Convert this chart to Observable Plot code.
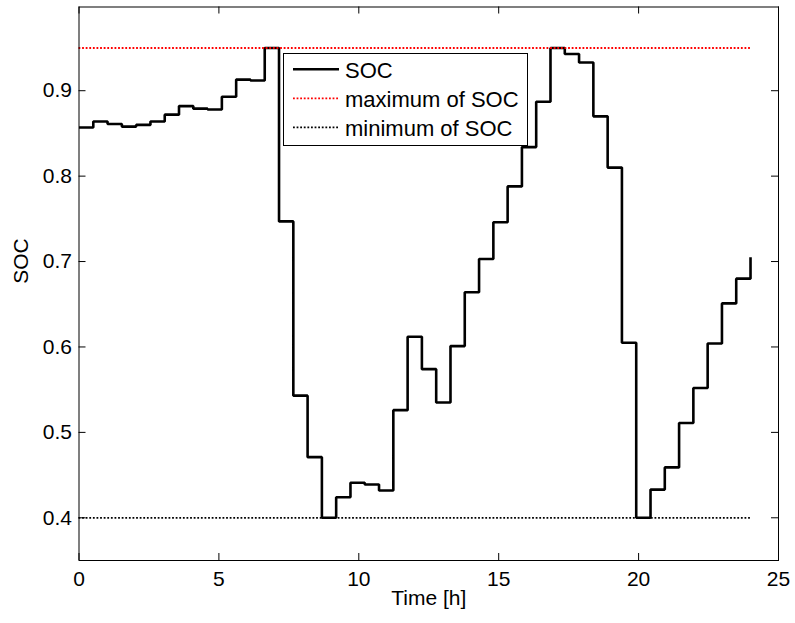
<!DOCTYPE html>
<html>
<head>
<meta charset="utf-8">
<script src="https://cdn.jsdelivr.net/npm/d3@7"></script>
<script src="https://cdn.jsdelivr.net/npm/@observablehq/plot@0.6"></script>
<style>
  body { margin: 0; background: #fff; }
  #wrap { position: relative; width: 795px; height: 623px; font-family: "Liberation Sans", Arial, sans-serif; }
  #legend { position: absolute; left: 283px; top: 53px; }
</style>
</head>
<body>
<div id="wrap"></div>
<script>
// ---- data ----
const timeH = [0, 0.511, 1.021, 1.532, 2.043, 2.553, 3.064, 3.574, 4.085, 4.596,
  5.106, 5.617, 6.128, 6.638, 7.149, 7.660, 8.170, 8.681, 9.191, 9.702,
  10.213, 10.723, 11.234, 11.745, 12.255, 12.766, 13.277, 13.787, 14.298, 14.809,
  15.319, 15.830, 16.340, 16.851, 17.362, 17.872, 18.383, 18.894, 19.404, 19.915,
  20.426, 20.936, 21.447, 21.957, 22.468, 22.979, 23.489, 24];
const soc = [0.857, 0.864, 0.861, 0.858, 0.860, 0.864, 0.872, 0.882, 0.879, 0.878,
  0.893, 0.913, 0.912, 0.950, 0.747, 0.543, 0.471, 0.400, 0.424, 0.441,
  0.439, 0.432, 0.526, 0.612, 0.574, 0.535, 0.601, 0.664, 0.703, 0.746,
  0.788, 0.834, 0.887, 0.950, 0.943, 0.933, 0.870, 0.810, 0.605, 0.400,
  0.433, 0.459, 0.511, 0.552, 0.604, 0.651, 0.680, 0.705];
const socMax = 0.95;
const socMin = 0.40;
const horizon = [0, 24];
const xTicks = [0, 5, 10, 15, 20, 25];
const yTicks = [0.4, 0.5, 0.6, 0.7, 0.8, 0.9];
const xLabel = "Time [h]";
const yLabel = "SOC";
const legendLabels = ["SOC", "maximum of SOC", "minimum of SOC"];

// ---- layout ----
const W = 795, H = 623;
const mL = 78.5, mR = 17, mT = 6.5, mB = 63;
const plotW = W - mL - mR, plotH = H - mT - mB;
const tickLen = 7;
const font = '"Liberation Sans", Arial, sans-serif';

const points = timeH.map((t, i) => ({t, v: soc[i]}));
const limits = [
  {v: socMax, stroke: "#ff0000"},
  {v: socMin, stroke: "#000000"}
];

const chart = Plot.plot({
  width: W, height: H,
  marginLeft: mL, marginRight: mR, marginTop: mT, marginBottom: mB,
  style: {fontFamily: font, fontSize: "21px", color: "black", background: "white"},
  x: {domain: [0, 25]},
  y: {domain: [0.35, 0.998]},
  marks: [
    Plot.line(points, {x: "t", y: "v", curve: "step-after", stroke: "black", strokeWidth: 2.6,
      strokeLinejoin: "miter", strokeLinecap: "butt"}),
    Plot.ruleY(limits, {y: "v", x1: () => horizon[0], x2: () => horizon[1], stroke: "stroke",
      strokeWidth: 1.8, strokeDasharray: "1.8,1.8"}),
    Plot.frame({stroke: "black", strokeWidth: 1}),
    // inward ticks
    Plot.tickX(xTicks, {x: d => d, insetTop: plotH - tickLen, stroke: "black", strokeWidth: 1}),
    Plot.tickX(xTicks, {x: d => d, insetBottom: plotH - tickLen, stroke: "black", strokeWidth: 1}),
    Plot.tickY(yTicks, {y: d => d, insetRight: plotW - tickLen, stroke: "black", strokeWidth: 1}),
    Plot.tickY(yTicks, {y: d => d, insetLeft: plotW - tickLen, stroke: "black", strokeWidth: 1}),
    Plot.axisX(xTicks, {anchor: "bottom", tickSize: 0, tickPadding: 11, label: null, tickFormat: d => String(d)}),
    Plot.axisY(yTicks, {anchor: "left", tickSize: 0, tickPadding: 7, label: null, tickFormat: d => d.toFixed(1)}),
    Plot.text([xLabel], {text: d => d, frameAnchor: "bottom", dy: 44, fill: "black"}),
    Plot.text([yLabel], {text: d => d, frameAnchor: "left", dx: -57.5, rotate: -90, fill: "black"})
  ]
});

const wrap = document.getElementById("wrap");
wrap.appendChild(chart);

// ---- legend ----
const lw = 245, lh = 93;
const rows = [
  {label: legendLabels[0], stroke: "black", width: 2.6, dash: null},
  {label: legendLabels[1], stroke: "#ff0000", width: 1.8, dash: "1.8,1.8"},
  {label: legendLabels[2], stroke: "black", width: 1.8, dash: "1.8,1.8"}
];
const leg = d3.select(wrap).append("svg")
  .attr("id", "legend").attr("width", lw + 1).attr("height", lh + 1)
  .style("font-family", font).style("font-size", "22px");
leg.append("rect").attr("x", 0.5).attr("y", 0.5).attr("width", lw - 1).attr("height", lh - 1)
  .attr("fill", "white").attr("stroke", "black").attr("stroke-width", 1);
rows.forEach((r, i) => {
  const cy = 16.3 + i * 29;
  leg.append("line").attr("x1", 10).attr("x2", 56).attr("y1", cy).attr("y2", cy)
    .attr("stroke", r.stroke).attr("stroke-width", r.width)
    .attr("stroke-dasharray", r.dash);
  leg.append("text").attr("x", 62).attr("y", cy + 8.8).attr("fill", "black").text(r.label);
});
</script>
</body>
</html>
